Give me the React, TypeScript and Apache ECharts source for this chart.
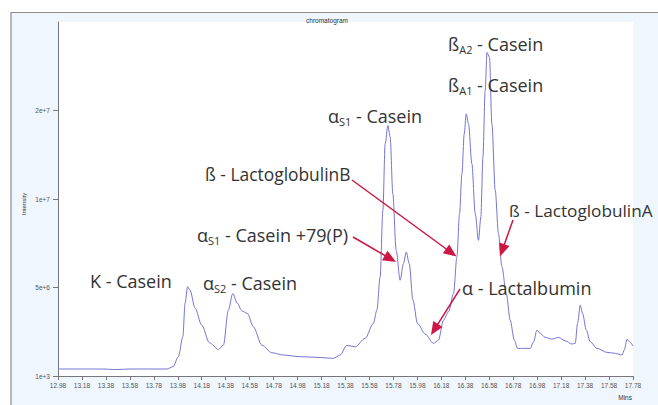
import React, { useEffect, useRef } from "react";
import * as echarts from "echarts";

// ---- data ----
const times = [12.98, 13.33, 13.47, 13.58, 13.89, 13.94, 13.985, 14.022, 14.041, 14.062, 14.082, 14.124, 14.18, 14.244, 14.319, 14.361, 14.402, 14.439, 14.478, 14.514, 14.561, 14.611, 14.681, 14.765, 14.862, 15.001, 15.141, 15.279, 15.335, 15.391, 15.461, 15.544, 15.613, 15.642, 15.669, 15.692, 15.711, 15.734, 15.753, 15.775, 15.803, 15.836, 15.864, 15.887, 15.912, 15.943, 15.981, 16.045, 16.115, 16.156, 16.198, 16.24, 16.282, 16.31, 16.332, 16.352, 16.371, 16.388, 16.407, 16.435, 16.463, 16.49, 16.51, 16.527, 16.546, 16.561, 16.582, 16.602, 16.63, 16.657, 16.686, 16.722, 16.755, 16.789, 16.816, 16.866, 16.922, 16.95, 16.978, 17.006, 17.047, 17.103, 17.159, 17.214, 17.27, 17.298, 17.317, 17.34, 17.359, 17.39, 17.423, 17.479, 17.563, 17.632, 17.688, 17.707, 17.73, 17.752, 17.78];
// signal in axis display units (0 = 1e+3, 1 = 5e+6, 2 = 1e+7, 3 = 2e+7)
const signal = [0.079, 0.079, 0.073, 0.079, 0.079, 0.105, 0.218, 0.443, 0.823, 1.009, 0.97, 0.767, 0.575, 0.375, 0.301, 0.349, 0.744, 0.932, 0.82, 0.736, 0.707, 0.556, 0.349, 0.263, 0.237, 0.218, 0.211, 0.2, 0.237, 0.346, 0.33, 0.425, 0.594, 0.744, 1.119, 1.871, 2.623, 2.83, 2.698, 2.06, 1.421, 1.082, 1.271, 1.401, 1.271, 0.857, 0.594, 0.474, 0.369, 0.406, 0.631, 0.725, 0.932, 1.345, 1.834, 2.285, 2.736, 2.962, 2.849, 2.398, 1.834, 1.533, 1.796, 2.472, 3.224, 3.656, 3.6, 2.849, 2.097, 1.609, 1.232, 0.932, 0.631, 0.406, 0.312, 0.312, 0.312, 0.387, 0.519, 0.481, 0.436, 0.417, 0.436, 0.398, 0.361, 0.369, 0.594, 0.8, 0.707, 0.519, 0.387, 0.312, 0.267, 0.256, 0.237, 0.293, 0.414, 0.387, 0.338];
const xTicks = [12.98, 13.18, 13.38, 13.58, 13.78, 13.98, 14.18, 14.38, 14.58, 14.78, 14.98, 15.18, 15.38, 15.58, 15.78, 15.98, 16.18, 16.38, 16.58, 16.78, 16.98, 17.18, 17.38, 17.58, 17.78];
const yTickLabels = ["1e+3", "5e+6", "1e+7", "2e+7"];
const yTickPositions = [0, 1, 2, 3];

const FONT = "'Open Sans', 'Noto Sans', sans-serif";
const ANN = "#333333";
const ARROW = "#cc1744";

function label(text: string, x: number, y: number, size = 18) {
  return {
    type: "text",
    x,
    y,
    z: 100,
    silent: true,
    style: {
      text,
      fill: ANN,
      fontSize: size,
      fontFamily: FONT,
      lineHeight: 22,
      align: "left",
      verticalAlign: "middle",
      rich: {
        s: { fontSize: 11, fontFamily: FONT, fill: ANN, lineHeight: 12, verticalAlign: "bottom" },
      },
    },
  };
}

function arrow(x1: number, y1: number, x2: number, y2: number) {
  const dx = x2 - x1, dy = y2 - y1;
  const len = Math.sqrt(dx * dx + dy * dy);
  const ux = dx / len, uy = dy / len;
  const hl = 13, hw = 5.5;
  const bx = x2 - ux * hl, by = y2 - uy * hl;
  return [
    { type: "line", z: 100, silent: true, shape: { x1, y1, x2: bx + ux * 2, y2: by + uy * 2 }, style: { stroke: ARROW, lineWidth: 1.5 } },
    {
      type: "polygon", z: 100, silent: true,
      shape: { points: [[x2, y2], [bx - uy * hw, by + ux * hw], [bx + uy * hw, by - ux * hw]] },
      style: { fill: ARROW },
    },
  ];
}

export default function App() {
  const ref = useRef<HTMLDivElement>(null);
  useEffect(() => {
    const chart = echarts.init(ref.current!, null, { renderer: "svg" });
    const axisLineStyle = { color: "#777777", width: 1 };
    chart.setOption({
      animation: false,
      backgroundColor: "#ffffff",
      grid: { left: 58, top: 22, width: 575, height: 354, show: true, backgroundColor: "#ffffff", borderWidth: 0 },
      xAxis: {
        type: "value",
        min: 12.98,
        max: 17.78,
        splitLine: { show: false },
        axisLine: { show: true, lineStyle: axisLineStyle },
        axisTick: { show: true, length: 4, lineStyle: axisLineStyle, customValues: xTicks },
        axisLabel: {
          customValues: xTicks,
          formatter: (v: number) => v.toFixed(2),
          fontSize: 6.5,
          color: "#555555",
          fontFamily: "'Liberation Sans', Arial, sans-serif",
          margin: 6,
        },
      },
      yAxis: {
        type: "value",
        min: 0,
        max: 4,
        splitLine: { show: false },
        axisLine: { show: true, lineStyle: axisLineStyle },
        axisTick: { show: true, length: 5, lineStyle: axisLineStyle, customValues: yTickPositions },
        axisLabel: {
          customValues: yTickPositions,
          formatter: (v: number) => yTickLabels[Math.round(v)] ?? "",
          fontSize: 6.5,
          color: "#555555",
          fontFamily: "'Liberation Sans', Arial, sans-serif",
          margin: 8,
        },
      },
      series: [
        {
          type: "line",
          data: times.map((t, i) => [t, signal[i]]),
          showSymbol: false,
          smooth: 0.3,
          smoothMonotone: "x",
          lineStyle: { color: "#7474d4", width: 1 },
          z: 5,
        },
      ],
      graphic: [
        { type: "rect", z: -20, silent: true, shape: { x: 11, y: 12.5, width: 700, height: 450 }, style: { fill: "#eff6fd", stroke: "#8c8c8c", lineWidth: 1.2 } },
        { type: "rect", z: -10, silent: true, shape: { x: 58, y: 22.5, width: 575, height: 353.5 }, style: { fill: "#ffffff" } },
        { type: "text", z: 50, silent: true, x: 327, y: 20, style: { text: "chromatogram", fill: "#333", fontSize: 6.5, fontFamily: "'Liberation Sans', Arial, sans-serif", align: "center", verticalAlign: "middle" } },
        { type: "text", z: 50, silent: true, x: 24, y: 204, rotation: Math.PI / 2, style: { text: "Intensity", fill: "#333", fontSize: 6, fontFamily: "'Liberation Sans', Arial, sans-serif", align: "center", verticalAlign: "middle" } },
        { type: "text", z: 50, silent: true, x: 632, y: 397, style: { text: "Mins", fill: "#333", fontSize: 6.5, fontFamily: "'Liberation Sans', Arial, sans-serif", align: "right", verticalAlign: "middle" } },
        label("K - Casein", 90, 281),
        label("α{s|S2} - Casein", 203, 283),
        label("α{s|S1} - Casein +79(P)", 197, 235),
        label("ß - LactoglobulinB", 205, 174, 17.4),
        label("α{s|S1} - Casein", 328, 116),
        label("ß{s|A2} - Casein", 448, 43.5),
        label("ß{s|A1} - Casein", 448, 84.5),
        label("ß - LactoglobulinA", 509, 210, 17.2),
        label("α - Lactalbumin", 462, 288),
        ...arrow(353, 237, 396, 262),
        ...arrow(352, 180, 456.5, 256.5),
        ...arrow(513, 220, 500, 256.5),
        ...arrow(460, 289, 431, 335),
      ],
    });
    return () => chart.dispose();
  }, []);
  return <div ref={ref} style={{ position: "fixed", left: 0, top: 0, width: 658, height: 405 }} />;
}
